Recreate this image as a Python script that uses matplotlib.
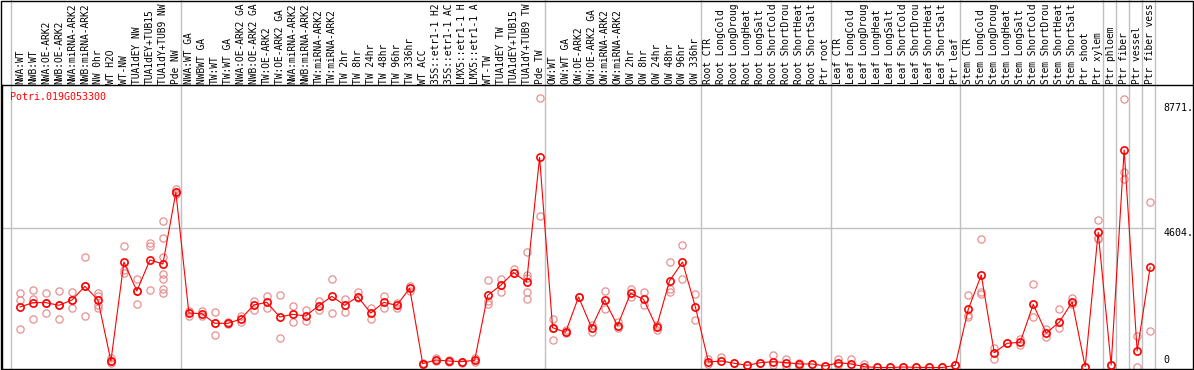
import matplotlib
matplotlib.use("Agg")
import matplotlib.pyplot as plt
import matplotlib.transforms as mtransforms
from matplotlib.patches import Rectangle

# etiquetas de las muestras (en orden, tal como se ven en la figura)
etiquetas = [
    "NWA:WT", "NWB:WT", "NWA:OE-ARK2", "NWB:OE-ARK2", "NWA:miRNA-ARK2", "NWB:miRNA-ARK2",
    "NW 0hr", "WT H2O", "WT-NW", "TUA1dEY NW", "TUA1dEY+TUB15", "TUA1dY+TUB9 NW", "Pde NW",
    "NWA:WT GA", "NWBWT GA", "TW:WT", "TW:WT GA", "NWA:OE-ARK2 GA", "NWB:OE-ARK2 GA",
    "TW:OE-ARK2", "TW:OE-ARK2 GA", "NWA:miRNA-ARK2", "NWB:miRNA-ARK2", "TW:miRNA-ARK2",
    "TW:miRNA-ARK2", "TW 2hr", "TW 8hr", "TW 24hr", "TW 48hr", "TW 96hr", "TW 336hr", "WT ACC",
    "35S::etr1-1 H2", "35S::etr1-1 AC", "LMX5::etr1-1 H", "LMX5::etr1-1 A", "WT-TW",
    "TUA1dEY TW", "TUA1dEY+TUB15", "TUA1dY+TUB9 TW", "Pde TW",
    "OW:WT", "OW:WT GA", "OW:OE-ARK2", "OW:OE-ARK2 GA", "OW:miRNA-ARK2", "OW:miRNA-ARK2",
    "OW 2hr", "OW 8hr", "OW 24hr", "OW 48hr", "OW 96hr", "OW 336hr",
    "Root CTR", "Root LongCold", "Root LongDroug", "Root LongHeat", "Root LongSalt",
    "Root ShortCold", "Root ShortDrou", "Root ShortHeat", "Root ShortSalt", "Ptr root",
    "Leaf CTR", "Leaf LongCold", "Leaf LongDroug", "Leaf LongHeat", "Leaf LongSalt",
    "Leaf ShortCold", "Leaf ShortDrou", "Leaf ShortHeat", "Leaf ShortSalt", "Ptr leaf",
    "Stem CTR", "Stem LongCold", "Stem LongDroug", "Stem LongHeat", "Stem LongSalt",
    "Stem ShortCold", "Stem ShortDrou", "Stem ShortHeat", "Stem ShortSalt", "Ptr shoot",
    "Ptr xylem", "Ptr phloem", "Ptr fiber", "Ptr vessel", "Ptr fiber vess",
]

# valor medio de cada muestra
medias = [
    2004, 2147, 2147, 2059, 2236, 2689, 2236, 215, 3494, 2534, 3560, 3428, 5802,
    1805, 1782, 1463, 1463, 1606, 2070, 2158, 1672, 1761, 1706, 2048, 2357, 2059, 2346,
    1805, 2158, 2059, 2622, 127, 248, 215, 193, 237, 2390, 2721, 3141, 2832, 6962,
    1318, 1166, 2335, 1318, 2236, 1384, 2457, 2258, 1341, 2865, 3494, 1993,
    182, 215, 138, 72, 160, 193, 160, 116, 116, 50,
    160, 116, 27, 0, 0, 15, 5, 0, 0, 72,
    1927, 3064, 490, 801, 835, 2092, 1143, 1497, 2169, 27,
    4477, 83, 7204, 546, 3318,
]

# replicas de cada muestra
replicas = [
    [2457, 2236, 1285], [2567, 2269, 1606], [2478, 2147, 1805], [2533, 2059, 1606],
    [2500, 2236, 1960], [3659, 2689, 1694], [2478, 2368, 2059, 1960], [325, 215, 160],
    [4024, 3229, 3119], [2931, 2534, 2103], [4113, 4034, 2557],
    [4852, 4289, 3670, 3087, 2931, 2590, 2478], [5912, 5802, 5750],
    [1860, 1694], [1860, 1694], [1827, 1463, 1066], [1520, 1430], [1694, 1520],
    [2213, 1893], [2368, 1960], [2401, 977], [2036, 1495], [1904, 1530], [2203, 1893],
    [2920, 1795], [2269, 1827], [2489, 2290], [1982, 1597], [2368, 1960], [2125, 1960],
    [2710, 2534], [127, 140], [325, 226], [248, 182], [193, 160], [303, 193],
    [2887, 2213, 2092], [2920, 2512], [3273, 3119], [3825, 3053, 2975, 2490, 2258],
    [8915, 5007],
    [1616, 901, 1318], [1243, 1133], [2335], [1407, 1166], [2534, 1949], [1495, 1307],
    [2611, 2346], [2500, 2070], [1407, 1243], [3494, 2589, 2500], [4057, 2931],
    [2434, 1573],
    [270, 116], [336], [138], [72], [160], [414, 83], [281, 61], [160, 61], [116], [50],
    [270, 83], [270], [116], [0], [0], [15], [5], [0], [0], [72],
    [2401, 1739, 1663], [4246, 2501, 2434], [656, 272], [801], [935, 747], [2765, 1663],
    [1265, 1000], [1937, 1297], [2312, 2103], [27],
    [4885, 4300, 4256], [83], [8882, 6485, 6233], [1043, 27], [5481, 1219],
]

# fin de cada grupo (lineas grises)
fin_grupos = [12, 40, 52, 62, 72, 83, 84, 85, 86, 87]
gen = "Potri.019G053300"
ticks_y = [0, 4604, 8771]
etiquetas_y = ["0", "4604.", "8771."]

W, H = 1194, 370
fig = plt.figure(figsize=(W / 100, H / 100), dpi=100)
ax = fig.add_axes([1.5 / W, 1 / H, (1193 - 1.5) / W, 284 / H])

fuente = "DejaVu Sans Mono"
rojo = "#ff0000"
rosa = "#e89090"
gris = "#c0c0c0"

x = list(range(len(etiquetas)))
ax.set_xlim(-1.424, 90.30)
ax.set_ylim(-50, 9356)

trans = mtransforms.blended_transform_factory(ax.transData, ax.transAxes)

# lineas grises verticales
for g in [-0.7] + [f + 0.4 for f in fin_grupos]:
    ax.plot([g, g], [0, 1.31], color=gris, lw=1, transform=trans, clip_on=False, zorder=1)
ax.hlines(4604, -1.424, 87.4, color=gris, lw=1, zorder=1)

# replicas
for i, reps in enumerate(replicas):
    ax.plot([i] * len(reps), reps, "o", mfc="none", mec=rosa, ms=5.2, mew=0.9, zorder=2)

# medias
ax.plot(x, medias, "-", color=rojo, lw=0.8, zorder=3)
ax.plot(x, medias, "o", mfc="none", mec=rojo, ms=5.2, mew=1.2, zorder=4)

# etiquetas de las muestras
for i, lab in enumerate(etiquetas):
    ax.text(i, 1.005, lab, rotation=90, ha="center", va="bottom", transform=trans,
            fontsize=6.9, family=fuente, clip_on=False)

# etiquetas del eje y
for v, t in zip(ticks_y, etiquetas_y):
    if v == 0:
        ax.text(88.05, 80, t, ha="left", va="bottom", fontsize=7.2, family=fuente)
    else:
        ax.text(88.05, v, t, ha="left", va="top", fontsize=7.2, family=fuente)

fig.text(10 / W, 1 - 97 / H, gen, color=rojo, ha="left", va="center", fontsize=7.2, family=fuente)

ax.set_xticks([])
ax.set_yticks([])
for s in ["left", "bottom", "top"]:
    ax.spines[s].set_linewidth(1)
ax.spines["right"].set_visible(False)
ax.patch.set_alpha(0)

# borde de la figura
fig.patches.append(Rectangle((0.5 / W, 0), (W - 1.5) / W, 1 - 0.5 / H, transform=fig.transFigure,
                             fill=False, ec="black", lw=1))

fig.savefig("out.png", dpi=100)
